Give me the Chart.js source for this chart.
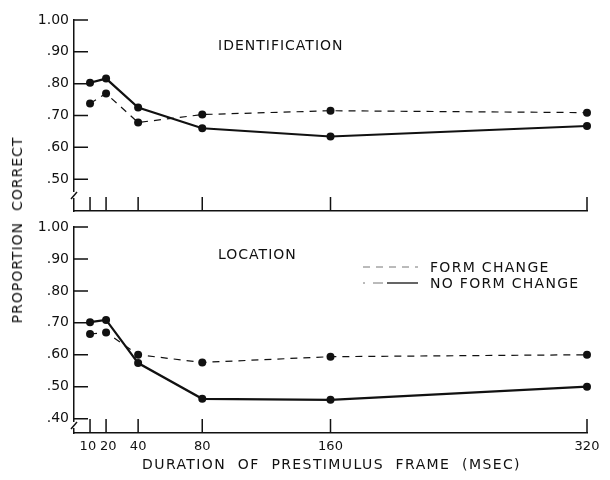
<!DOCTYPE html>
<html>
<head>
<meta charset="utf-8">
<script src="https://cdn.jsdelivr.net/npm/chart.js@4.4.0/dist/chart.umd.min.js"></script>
<style>
  body { margin: 0; background: #fff; }
  #wrap { position: relative; width: 610px; height: 480px; }
  canvas { position: absolute; left: 0; }
  #g-top { top: 0; }
  #g-bot { top: 218px; }
  #ytitle {
    position: absolute; left: 17px; top: 230px;
    transform: translate(-50%, -50%) rotate(-90deg);
    font: 14px "DejaVu Sans"; letter-spacing: 1px; white-space: pre; color: #111;
  }
</style>
</head>
<body>
<div id="wrap">
  <canvas id="g-top" width="610" height="218"></canvas>
  <canvas id="g-bot" width="610" height="262"></canvas>
  <div id="ytitle">PROPORTION  CORRECT</div>
</div>
<script>
// duration of prestimulus frame (msec)
var durations = [10, 20, 40, 80, 160, 320];

// identification panel
var idFormChange   = [0.738, 0.769, 0.678, 0.703, 0.715, 0.709];
var idNoFormChange = [0.803, 0.816, 0.725, 0.660, 0.634, 0.667];

// location panel
var locFormChange   = [0.665, 0.670, 0.600, 0.576, 0.594, 0.600];
var locNoFormChange = [0.702, 0.709, 0.574, 0.462, 0.459, 0.500];

var idTicks  = [0.50, 0.60, 0.70, 0.80, 0.90, 1.00];
var locTicks = [0.40, 0.50, 0.60, 0.70, 0.80, 0.90, 1.00];
var seriesNames = ['FORM CHANGE', 'NO FORM CHANGE'];
var xTitle = 'DURATION  OF  PRESTIMULUS  FRAME  (MSEC)';

var ink = '#111';
var fontFam = '"DejaVu Sans", sans-serif';

function fmt(v) {
  return v.toFixed(2).replace(/^0/, '');
}

// 10 and 20 sit very close, nudge them apart a little
function xLabel(v) {
  if (v === 10) return '10\u2004';
  if (v === 20) return '\u200420';
  return String(v);
}

function serie(vals, name, dashed) {
  return {
    label: name,
    data: durations.map(function (d, i) { return { x: d, y: vals[i] }; }),
    borderColor: ink,
    backgroundColor: ink,
    borderWidth: dashed ? 1.2 : 2.2,
    borderDash: dashed ? [7, 6] : [],
    pointRadius: 4,
    pointHoverRadius: 4,
    pointBorderWidth: 0,
    pointBackgroundColor: ink,
    tension: 0,
    clip: false
  };
}

// inward tick marks, axis break, panel label, legend, x title
var marco = {
  id: 'marco',
  afterDraw: function (chart, args, o) {
    var ctx = chart.ctx, a = chart.chartArea;
    var x = chart.scales.x, y = chart.scales.y;
    ctx.save();
    ctx.strokeStyle = ink;
    ctx.lineWidth = 1.5;
    ctx.beginPath();
    y.ticks.forEach(function (t) {
      var py = y.getPixelForValue(t.value);
      ctx.moveTo(a.left, py); ctx.lineTo(a.left + 14, py);
    });
    durations.forEach(function (d) {
      var px = x.getPixelForValue(d);
      ctx.moveTo(px, a.bottom); ctx.lineTo(px, a.bottom - 14);
    });
    ctx.stroke();

    // axis break
    var by = a.bottom - o.breakAt;
    ctx.fillStyle = '#fff';
    ctx.fillRect(a.left - 2, by - 3, 4, 6);
    ctx.beginPath();
    ctx.moveTo(a.left - 3, by + 4); ctx.lineTo(a.left + 3, by - 3);
    ctx.stroke();

    // panel label
    ctx.fillStyle = ink;
    ctx.font = '14px ' + fontFam;
    ctx.letterSpacing = '1px';
    ctx.textBaseline = 'middle';
    ctx.fillText(o.label, a.left + 144, a.top + o.labelDy);

    if (o.legend) {
      var lx = a.left + 289, ly = a.top + 40;
      ctx.strokeStyle = '#777';
      ctx.lineWidth = 1;
      ctx.setLineDash([7, 6]);
      ctx.beginPath(); ctx.moveTo(lx, ly); ctx.lineTo(lx + 55, ly); ctx.stroke();
      ctx.setLineDash([2, 8, 10, 3]);
      ctx.beginPath(); ctx.moveTo(lx, ly + 16); ctx.lineTo(lx + 22, ly + 16); ctx.stroke();
      ctx.setLineDash([]);
      ctx.strokeStyle = ink;
      ctx.lineWidth = 1.3;
      ctx.beginPath(); ctx.moveTo(lx + 24, ly + 16); ctx.lineTo(lx + 55, ly + 16); ctx.stroke();
      ctx.letterSpacing = '1.3px';
      ctx.fillText(seriesNames[0], lx + 67, ly + 1);
      ctx.fillText(seriesNames[1], lx + 67, ly + 17);
    }

    if (o.xLabels) {
      ctx.letterSpacing = '1.4px';
      ctx.textAlign = 'center';
      ctx.fillText(xTitle, (a.left + a.right) / 2 + 1, a.bottom + 32);
    }
    ctx.restore();
  }
};

function panel(id, fc, nfc, yMin, yTicks, o) {
  return new Chart(document.getElementById(id), {
    type: 'line',
    data: { datasets: [serie(fc, seriesNames[0], true), serie(nfc, seriesNames[1], false)] },
    options: {
      responsive: false,
      animation: false,
      events: [],
      layout: { padding: { top: o.padTop, right: 23, left: 0, bottom: 0 } },
      plugins: {
        legend: { display: false },
        tooltip: { enabled: false },
        marco: o
      },
      scales: {
        x: {
          type: 'linear', min: 0, max: 320,
          afterBuildTicks: function (s) { s.ticks = durations.map(function (v) { return { value: v }; }); },
          afterFit: function (s) { s.height = o.xHeight; s.paddingLeft = 0; s.paddingRight = 0; },
          grid: { display: false, drawTicks: false },
          border: { display: true, color: ink, width: 1.5 },
          ticks: {
            display: o.xLabels, autoSkip: false, maxRotation: 0, padding: 6,
            color: ink, font: { family: fontFam, size: 13 },
            callback: function (v) { return xLabel(v); }
          }
        },
        y: {
          min: yMin, max: 1.0,
          afterBuildTicks: function (s) { s.ticks = yTicks.map(function (v) { return { value: v }; }); },
          afterFit: function (s) { s.width = 74; s.paddingTop = 0; s.paddingBottom = 0; },
          grid: { display: false, drawTicks: false },
          border: { display: true, color: ink, width: 1.5 },
          ticks: {
            padding: 5, color: ink, font: { family: fontFam, size: 14 },
            callback: function (v) { return fmt(v); }
          }
        }
      }
    },
    plugins: [marco]
  });
}

var g_top = panel('g-top', idFormChange, idNoFormChange, 0.40, idTicks,
  { padTop: 20, xHeight: 7, xLabels: false, breakAt: 16, label: 'IDENTIFICATION', labelDy: 26, legend: false });

var g_bot = panel('g-bot', locFormChange, locNoFormChange, 0.355, locTicks,
  { padTop: 9, xHeight: 47, xLabels: true, breakAt: 8, label: 'LOCATION', labelDy: 28, legend: true });
</script>
</body>
</html>
